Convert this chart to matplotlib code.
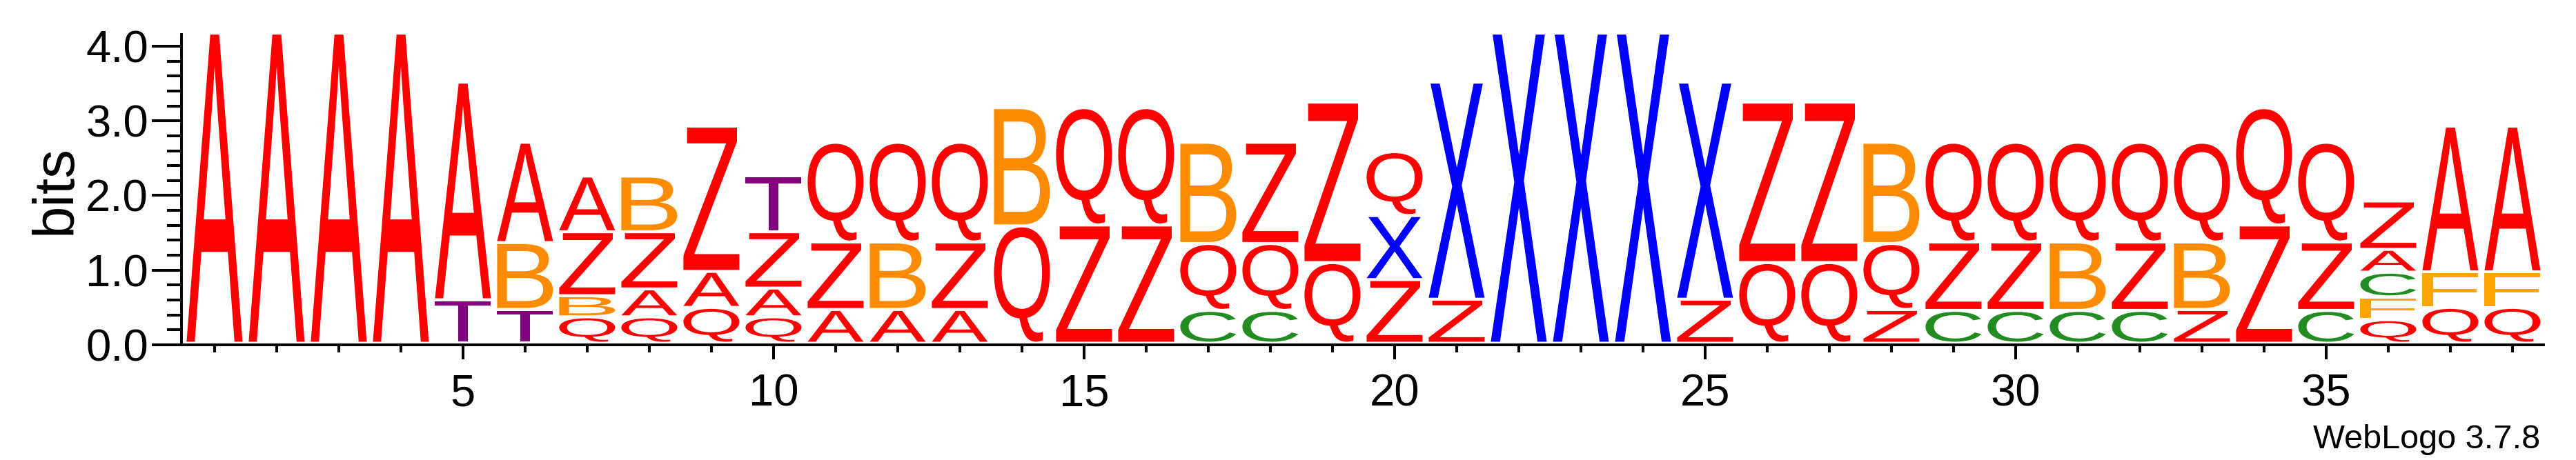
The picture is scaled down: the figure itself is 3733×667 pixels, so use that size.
import matplotlib
matplotlib.use('Agg')
import matplotlib.pyplot as plt
from matplotlib.textpath import TextPath
from matplotlib.patches import PathPatch
from matplotlib.font_manager import FontProperties
from matplotlib.transforms import Affine2D
from matplotlib.ticker import FixedLocator

plt.rcParams['font.family'] = ['Liberation Sans', 'DejaVu Sans']

# ---------------- data ----------------
positions = list(range(1, 39))

# letters of each stack, bottom to top
stack_letters = [
    "A", "A", "A", "A", "TA", "TBA", "QBZA", "QAZB", "QAZ", "QAZT",
    "AZQ", "ABQ", "AZQ", "QB", "ZQ", "ZQ", "CQB", "CQZ", "QZ", "ZXQ",
    "ZX", "X", "X", "X", "ZX", "QZ", "QZ", "ZQB", "CZQ", "CZQ",
    "CBQ", "CZQ", "ZBQ", "ZQ", "CZQ", "QFCAZ", "QFA", "QFA",
]

# height (bits) of each letter in the stack, bottom to top
stack_heights = [
    [4.157], [4.157], [4.157], [4.157],
    [0.582, 2.918],
    [0.452, 0.897, 1.345],
    [0.354, 0.283, 0.857, 0.747],
    [0.354, 0.374, 0.766, 0.747],
    [0.480, 0.483, 1.947],
    [0.354, 0.385, 0.755, 0.747],
    [0.452, 0.905, 1.337],
    [0.452, 0.905, 1.337],
    [0.452, 0.905, 1.337],
    [1.573, 1.585],
    [1.585, 1.573],
    [1.585, 1.573],
    [0.440, 0.897, 1.357],
    [0.440, 0.897, 1.357],
    [1.081, 2.151],
    [0.853, 0.858, 0.857],
    [0.590, 2.910],
    [4.157], [4.157], [4.157],
    [0.590, 2.910],
    [1.081, 2.151],
    [1.081, 2.151],
    [0.452, 0.885, 1.357],
    [0.440, 0.917, 1.337],
    [0.440, 0.917, 1.337],
    [0.440, 0.917, 1.337],
    [0.440, 0.917, 1.337],
    [0.452, 0.905, 1.337],
    [1.585, 1.573],
    [0.440, 0.917, 1.337],
    [0.315, 0.306, 0.331, 0.306, 0.649],
    [0.480, 0.476, 1.954],
    [0.480, 0.476, 1.954],
]

letter_colors = {
    "A": "#ff0000", "Q": "#ff0000", "Z": "#ff0000",
    "B": "#ff8c00", "F": "#ffa500",
    "C": "#228b22", "T": "#800080", "X": "#0000ff",
}

y_major = [0, 1, 2, 3, 4]
y_major_labels = ["0.0", "1.0", "2.0", "3.0", "4.0"]
y_max = 4.157
x_labelled = [5, 10, 15, 20, 25, 30, 35]

# ---------------- figure ----------------
fig = plt.figure(figsize=(37.33, 6.67), dpi=100)
ax = fig.add_axes([0.07123, 0.25067, 0.91616, 0.67407])
ax.set_xlim(0.5, 38.5)
ax.set_ylim(0, y_max)

fp = FontProperties(family='Liberation Sans')
GAP = 0.04
W = 0.9
for pos, letters, heights in zip(positions, stack_letters, stack_heights):
    base = 0.0
    for L, h in zip(letters, heights):
        tp = TextPath((0, 0), L, size=1, prop=fp)
        ext = tp.get_extents()
        y0 = base + GAP
        y1 = base + h
        tr = (Affine2D().translate(-ext.x0, -ext.y0)
              .scale(W / ext.width, (y1 - y0) / ext.height)
              .translate(pos - W / 2, y0))
        ax.add_patch(PathPatch(tr.transform_path(tp), facecolor=letter_colors[L],
                               edgecolor='none', lw=0))
        base += h

for s in ("top", "right"):
    ax.spines[s].set_visible(False)
ax.spines["left"].set_position(("outward", 2.2))
ax.spines["left"].set_linewidth(2.8)
ax.spines["bottom"].set_linewidth(2.8)

ax.yaxis.set_major_locator(FixedLocator(y_major))
ax.set_yticklabels(y_major_labels)
ax.yaxis.set_minor_locator(FixedLocator([v / 5 for v in range(1, 21) if v % 5]))
ax.tick_params(axis='y', which='major', length=31, width=2.9, direction='out',
               labelsize=47, pad=3.5)
ax.tick_params(axis='y', which='minor', length=15, width=2.9, direction='out')

ax.xaxis.set_major_locator(FixedLocator(x_labelled))
ax.set_xticklabels([str(v) for v in x_labelled])
ax.xaxis.set_minor_locator(FixedLocator([p for p in positions if p not in x_labelled]))
ax.tick_params(axis='x', which='major', length=15.3, width=2.9, direction='out',
               labelsize=47, pad=14.5)
ax.tick_params(axis='x', which='minor', length=7.7, width=2.9, direction='out')

ax.set_ylabel("bits", fontsize=60)
ax.yaxis.set_label_coords(-0.0427, 0.5)

fig.text(3681 / 3733, 17 / 667, "WebLogo 3.7.8", ha='right', va='baseline', fontsize=35)

fig.savefig("out.png", dpi=100)
